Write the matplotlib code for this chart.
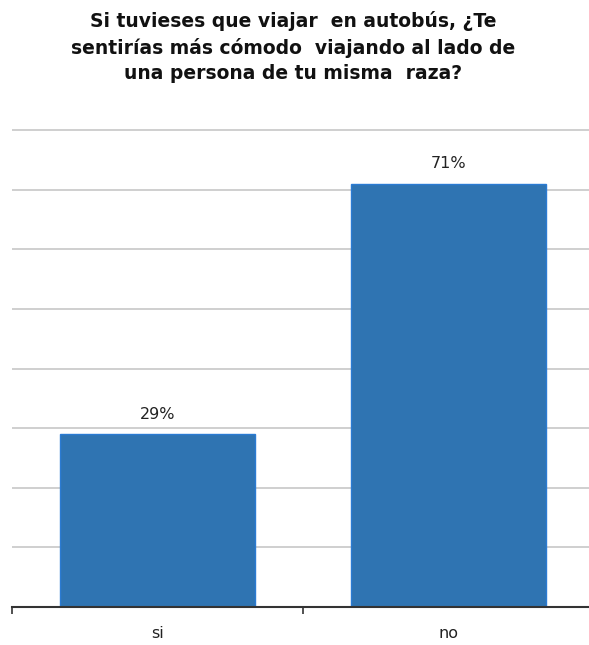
import matplotlib
matplotlib.use("Agg")
import matplotlib.pyplot as plt
import numpy as np

title = "Si tuvieses que viajar  en autobús, ¿Te\nsentirías más cómodo  viajando al lado de\nuna persona de tu misma  raza?"
categories = ["si", "no"]
values = [29, 71]
value_labels = ["29%", "71%"]

W, H = 589, 645
fig = plt.figure(figsize=(W / 100, H / 100), dpi=100)
px_per = (607 - 130) / 80.0
ytop = 81
top_px = 607 - ytop * px_per
ax = fig.add_axes([12 / W, (H - 607) / H, (594 - 12) / W, (607 - top_px) / H])

x = np.arange(len(categories))
ax.bar(x, values, width=0.667, color="#2F74B2", edgecolor="#2B7BD3", linewidth=1.0, zorder=3)
for xi, v, lab in zip(x, values, value_labels):
    ax.annotate(lab, (xi, v), xytext=(0, 9), textcoords="offset points",
                ha="center", va="bottom", fontsize=11.5, color="#222222")

ax.set_xlim(-0.5, 1.5)
ax.set_ylim(0, ytop)
ax.set_yticks(np.arange(10, 81, 10))
ax.yaxis.grid(True, color="#CFCFCF", linewidth=1.4, zorder=0)
ax.tick_params(axis="y", left=False, labelleft=False)
ax.set_xticks(x)
ax.set_xticklabels(categories, fontsize=11.5, color="#222222")
ax.tick_params(axis="x", which="major", length=0, pad=14)
ax.set_xticks([-0.5, 0.5, 1.5], minor=True)
ax.tick_params(axis="x", which="minor", length=5, width=1.2, color="#333333", direction="out")
for s in ["top", "right", "left"]:
    ax.spines[s].set_visible(False)
ax.spines["bottom"].set_color("#333333")
ax.spines["bottom"].set_linewidth(1.5)
ax.spines["bottom"].set_zorder(4)

fig.text(293 / W, 1 - 47 / H, title, ha="center", va="center", fontsize=13.5,
         fontweight="bold", linespacing=1.45, color="#111111")

fig.savefig("out.png", dpi=100)
